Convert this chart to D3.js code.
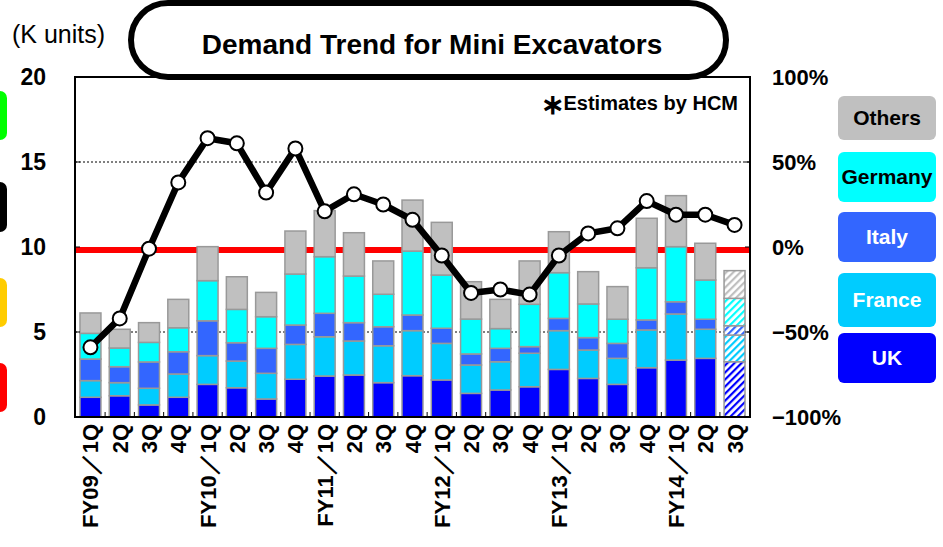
<!DOCTYPE html>
<html lang="en">
<meta charset="utf-8">
<head>
    <script src='https://d3js.org/d3.v7.min.js'></script>
    <style>
        body { margin: 0; background: #fff; }
        text { font-family: "Liberation Sans", Arial, sans-serif; font-weight: bold; }
    </style>
</head>
<body>
<script>
    // quarters FY09/1Q .. FY14/3Q
    var quarters = ["FY09\uFF0F1Q","2Q","3Q","4Q","FY10\uFF0F1Q","2Q","3Q","4Q","FY11\uFF0F1Q","2Q","3Q","4Q",
                    "FY12\uFF0F1Q","2Q","3Q","4Q","FY13\uFF0F1Q","2Q","3Q","4Q","FY14\uFF0F1Q","2Q","3Q"];
    // demand by country (K units)
    var uk      = [1.16,1.25,0.71,1.16,1.92,1.72,1.06,2.22,2.41,2.47,2.02,2.43,2.18,1.39,1.59,1.78,2.80,2.27,1.92,2.90,3.35,3.45,3.25];
    var france  = [0.98,0.77,0.98,1.37,1.69,1.57,1.51,2.05,2.31,2.00,2.17,2.65,2.15,1.67,1.66,1.97,2.28,1.67,1.53,2.22,2.71,1.71,1.57];
    var italy   = [1.27,0.94,1.55,1.31,2.05,1.08,1.47,1.14,1.38,1.08,1.12,0.92,0.89,0.65,0.79,0.39,0.72,0.73,0.88,0.59,0.72,0.59,0.55];
    var germany = [1.51,1.10,1.15,1.41,2.36,1.96,1.86,3.00,3.33,2.74,1.91,3.76,3.13,2.05,1.16,2.49,2.69,1.98,1.42,3.07,3.24,2.31,1.61];
    var others  = [1.20,1.10,1.16,1.67,2.00,1.92,1.43,2.53,2.71,2.55,1.96,3.00,3.10,2.20,1.72,2.55,2.41,1.90,1.92,2.91,3.00,2.16,1.63];
    // year-on-year change (%)
    var yoy = [-59,-42,-1,38,64,61,32,58,21,31,25,16,-5,-27,-25,-28,-5,8,11,27,19,19,13];
    var estimated = [22];   // index of the estimated quarter (hatched)

    var leftTicks = [0,5,10,15,20];
    var rightTicks = [100,50,0,-50,-100];
    var gridValues = [5,15];
    var redLineValue = 9.82;

    var seriesNames = ["UK","France","Italy","Germany","Others"];
    var seriesData = [uk, france, italy, germany, others];
    var seriesColors = ["#0000ff","#00ccff","#3366ff","#00ffff","#c0c0c0"];
    var legendOrder = ["Others","Germany","Italy","France","UK"];
    var legendText = {"Others":"#000","Germany":"#000","Italy":"#fff","France":"#fff","UK":"#fff"};

    var width = 943, height = 547;
    var plotL = 75, plotR = 750, plotT = 77, plotB = 417;

    var svg = d3.select("body").append("svg")
        .attr("width", width)
        .attr("height", height);

    // hatch patterns
    var defs = svg.append("defs");
    seriesColors.forEach(function(c, i) {
        var p = defs.append("pattern")
            .attr("id", "hatch" + i)
            .attr("patternUnits", "userSpaceOnUse")
            .attr("width", 5).attr("height", 5)
            .attr("patternTransform", "rotate(45)");
        p.append("rect").attr("width", 5).attr("height", 5).attr("fill", "#fff");
        p.append("rect").attr("width", 2.2).attr("height", 5).attr("fill", c);
    });

    var x = d3.scaleBand()
        .domain(d3.range(quarters.length))
        .range([plotL, plotR])
        .paddingInner(0.284)
        .paddingOuter(0.17);

    var y = d3.scaleLinear().domain([0, 20]).range([plotB, plotT]);
    var y2 = d3.scaleLinear().domain([-100, 100]).range([plotB, plotT]);

    // left side colored tabs (cut off)
    var tabs = [["#00ff00", 91, 140], ["#000000", 182, 232], ["#ffcc00", 278, 327], ["#ff0000", 363, 412]];
    svg.selectAll(".tab").data(tabs).enter().append("rect")
        .attr("x", -20).attr("width", 27)
        .attr("y", function(d) { return d[1] })
        .attr("height", function(d) { return d[2] - d[1] })
        .attr("rx", 7)
        .attr("fill", function(d) { return d[0] });

    // grid lines
    svg.selectAll(".grid").data(gridValues).enter().append("line")
        .attr("x1", plotL).attr("x2", plotR)
        .attr("y1", function(d) { return y(d) })
        .attr("y2", function(d) { return y(d) })
        .attr("stroke", "#000")
        .attr("stroke-width", 1)
        .attr("stroke-dasharray", "2,2");

    // red line
    svg.append("line")
        .attr("x1", plotL).attr("x2", plotR)
        .attr("y1", y(redLineValue)).attr("y2", y(redLineValue))
        .attr("stroke", "#ff0000")
        .attr("stroke-width", 6);

    // stacked bars
    var stacked = quarters.map(function(q, i) {
        var base = 0;
        return seriesData.map(function(s, k) {
            var seg = {i: i, k: k, y0: base, y1: base + s[i]};
            base += s[i];
            return seg;
        });
    });
    var segs = [].concat.apply([], stacked);

    svg.selectAll(".seg").data(segs).enter().append("rect")
        .attr("x", function(d) { return x(d.i) })
        .attr("width", x.bandwidth())
        .attr("y", function(d) { return y(d.y1) })
        .attr("height", function(d) { return y(d.y0) - y(d.y1) })
        .attr("fill", function(d) {
            return estimated.indexOf(d.i) >= 0 ? "url(#hatch" + d.k + ")" : seriesColors[d.k];
        })
        .attr("stroke", "#999")
        .attr("stroke-width", 1.5);

    // frame
    svg.append("rect")
        .attr("x", plotL).attr("y", plotT)
        .attr("width", plotR - plotL).attr("height", plotB - plotT)
        .attr("fill", "none")
        .attr("stroke", "#000")
        .attr("stroke-width", 2);

    // x ticks between bars
    svg.selectAll(".xtick").data(d3.range(1, quarters.length)).enter().append("line")
        .attr("x1", function(d) { return x(d) - x.step() * 0.142 })
        .attr("x2", function(d) { return x(d) - x.step() * 0.142 })
        .attr("y1", plotB).attr("y2", plotB - 5)
        .attr("stroke", "#000").attr("stroke-width", 1);

    // inward y ticks
    svg.selectAll(".lt").data(leftTicks).enter().append("line")
        .attr("x1", plotL).attr("x2", plotL + 5)
        .attr("y1", function(d) { return y(d) }).attr("y2", function(d) { return y(d) })
        .attr("stroke", "#000").attr("stroke-width", 1);
    svg.selectAll(".rt").data(rightTicks).enter().append("line")
        .attr("x1", plotR - 5).attr("x2", plotR)
        .attr("y1", function(d) { return y2(d) }).attr("y2", function(d) { return y2(d) })
        .attr("stroke", "#000").attr("stroke-width", 1);

    // left axis labels
    svg.selectAll(".ly").data(leftTicks).enter().append("text")
        .attr("x", 46)
        .attr("y", function(d) { return y(d) + 8 })
        .attr("text-anchor", "end")
        .attr("font-size", 23)
        .text(function(d) { return d });

    // right axis labels
    svg.selectAll(".ry").data(rightTicks).enter().append("text")
        .attr("x", 772)
        .attr("y", function(d) { return y2(d) + 8 })
        .attr("font-size", 22)
        .text(function(d) { return (d < 0 ? "\u2212" + (-d) : d) + "%" });

    // x labels
    svg.selectAll(".xl").data(quarters).enter().append("text")
        .attr("transform", function(d, i) {
            return "translate(" + (x(i) + x.bandwidth() / 2 + 8) + "," + 424 + ") rotate(-90)";
        })
        .attr("text-anchor", "end")
        .attr("font-size", 22)
        .text(function(d) { return d });

    // YoY line
    var line = d3.line()
        .x(function(d, i) { return x(i) + x.bandwidth() / 2 })
        .y(function(d) { return y2(d) });

    svg.append("path")
        .datum(yoy)
        .attr("fill", "none")
        .attr("stroke", "#000")
        .attr("stroke-width", 6.5)
        .attr("stroke-linejoin", "round")
        .attr("d", line);

    svg.selectAll(".dot").data(yoy).enter().append("circle")
        .attr("cx", function(d, i) { return x(i) + x.bandwidth() / 2 })
        .attr("cy", function(d) { return y2(d) })
        .attr("r", 7)
        .attr("fill", "#fff")
        .attr("stroke", "#000")
        .attr("stroke-width", 2);

    // title box
    svg.append("rect")
        .attr("x", 131).attr("y", 3)
        .attr("width", 595).attr("height", 74)
        .attr("rx", 37)
        .attr("fill", "#fff")
        .attr("stroke", "#000")
        .attr("stroke-width", 6);

    svg.append("text")
        .attr("x", 432).attr("y", 54)
        .attr("text-anchor", "middle")
        .attr("font-size", 28)
        .text("Demand Trend for Mini Excavators");

    svg.append("text")
        .attr("x", 12).attr("y", 43)
        .attr("font-size", 25)
        .style("font-weight", "normal")
        .text("(K units)");

    var est = svg.append("text")
        .attr("x", 738).attr("y", 110)
        .attr("text-anchor", "end")
        .attr("font-size", 20);
    est.append("tspan").attr("font-size", 28).attr("dy", 4).text("\u2217");
    est.append("tspan").attr("dy", -4).text("Estimates by HCM");

    // legend
    var legend = svg.selectAll(".lg").data(legendOrder).enter().append("g")
        .attr("transform", function(d, i) { return "translate(838," + [96, 152, 212, 273, 333][i] + ")" });

    legend.append("rect")
        .attr("width", 98)
        .attr("height", function(d, i) { return [44, 50, 50, 54, 50][i] })
        .attr("rx", 6)
        .attr("fill", function(d) { return seriesColors[seriesNames.indexOf(d)] });

    legend.append("text")
        .attr("x", 49)
        .attr("y", function(d, i) { return [44, 50, 50, 54, 50][i] / 2 + 7 })
        .attr("text-anchor", "middle")
        .attr("font-size", 21)
        .attr("fill", function(d) { return legendText[d] })
        .text(function(d) { return d });
</script>
</body>
</html>
